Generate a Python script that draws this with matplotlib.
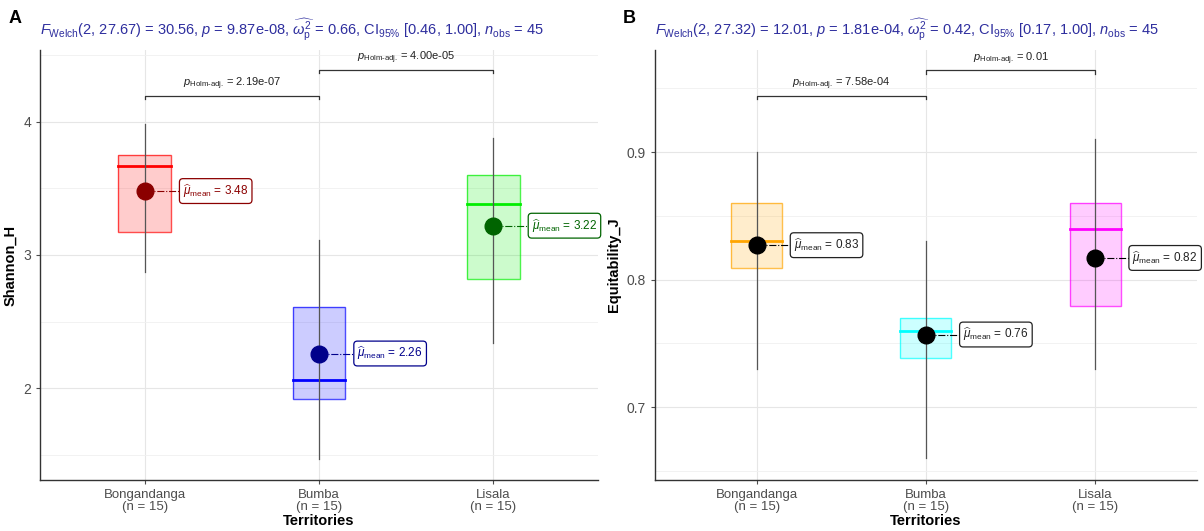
import matplotlib
matplotlib.use("Agg")
import matplotlib.pyplot as plt
from matplotlib.ticker import MultipleLocator

plt.rcParams['font.family'] = ['Liberation Sans', 'DejaVu Sans']
plt.rcParams['mathtext.fontset'] = 'custom'
plt.rcParams['mathtext.rm'] = 'Liberation Sans'
plt.rcParams['mathtext.it'] = 'Liberation Sans:italic'
plt.rcParams['mathtext.bf'] = 'Liberation Sans:bold'

# ---- data ----
territories = ["Bongandanga", "Bumba", "Lisala"]
n_obs = [15, 15, 15]

shannon_min = [2.87, 1.47, 2.34]
shannon_q1 = [3.17, 1.92, 2.82]
shannon_med = [3.67, 2.06, 3.38]
shannon_q3 = [3.75, 2.61, 3.60]
shannon_max = [3.98, 3.11, 3.88]
shannon_mean = [3.48, 2.26, 3.22]

equit_min = [0.73, 0.66, 0.73]
equit_q1 = [0.809, 0.739, 0.779]
equit_med = [0.83, 0.76, 0.84]
equit_q3 = [0.86, 0.77, 0.86]
equit_max = [0.90, 0.83, 0.91]
equit_mean = [0.827, 0.757, 0.817]

title_a = (r"$F_{\mathrm{Welch}}$(2, 27.67) = 30.56, $p$ = 9.87e-08, "
           r"$\widehat{\omega_{\mathrm{p}}^{2}}$ = 0.66, CI$_{95\%}$ [0.46, 1.00], $n_{\mathrm{obs}}$ = 45")
title_b = (r"$F_{\mathrm{Welch}}$(2, 27.32) = 12.01, $p$ = 1.81e-04, "
           r"$\widehat{\omega_{\mathrm{p}}^{2}}$ = 0.42, CI$_{95\%}$ [0.17, 1.00], $n_{\mathrm{obs}}$ = 45")
pairs_a = ["2.19e-07", "4.00e-05"]
pairs_b = ["7.58e-04", "0.01"]

TITLE_COL = "#2e2e9e"


def panel(ax, vmin, q1, med, q3, vmax, mean, box_cols, pt_cols, lab_cols,
          ylim, major, minor, ylabel, title, pvals, br_y, drop, fmt):
    x = [1, 2, 3]
    ax.set_xlim(0.4, 3.6)
    ax.set_ylim(*ylim)
    ax.yaxis.set_major_locator(MultipleLocator(major))
    ax.yaxis.set_minor_locator(MultipleLocator(minor))
    ax.set_xticks(x)
    ax.set_xticklabels([f"{t}\n(n = {n})" for t, n in zip(territories, n_obs)],
                       fontsize=9.5, color="#4d4d4d", linespacing=1.0)
    ax.tick_params(axis='y', labelsize=10, colors="#4d4d4d", length=3)
    ax.tick_params(axis='x', length=3, colors="#4d4d4d")
    ax.tick_params(axis='y', which='minor', length=0)
    ax.grid(True, which='major', color="#e6e6e6", lw=0.8)
    ax.grid(True, which='minor', axis='y', color="#f0f0f0", lw=0.6)
    ax.set_axisbelow(True)
    for s in ['top', 'right']:
        ax.spines[s].set_visible(False)
    for s in ['left', 'bottom']:
        ax.spines[s].set_color("#333333")
        ax.spines[s].set_linewidth(1.0)

    w = 0.3
    for i in range(3):
        xi = x[i]
        ax.bar(xi, q3[i] - q1[i], bottom=q1[i], width=w, color=box_cols[i],
               alpha=0.2, zorder=2)
        ax.bar(xi, q3[i] - q1[i], bottom=q1[i], width=w, fill=False,
               edgecolor=box_cols[i], lw=1.0, alpha=0.7, zorder=3)
        ax.plot([xi - w / 2, xi + w / 2], [med[i], med[i]], color=box_cols[i],
                lw=2.0, zorder=4)
        ax.plot([xi, xi], [vmin[i], vmax[i]], color="#555555", lw=0.9, zorder=5)
        ax.plot([xi, xi + 0.2], [mean[i], mean[i]], color=pt_cols[i], lw=0.8,
                ls='-.', zorder=5)
        ax.plot(xi, mean[i], 'o', ms=12, color=pt_cols[i], zorder=6)
        ax.text(xi + 0.22, mean[i],
                r"$\widehat{\mu}_{\mathrm{mean}}$ = " + fmt.format(mean[i]),
                ha='left', va='center', fontsize=8.5, color=lab_cols[i], zorder=7,
                bbox=dict(boxstyle="round,pad=0.3,rounding_size=0.3", fc="white",
                          ec=lab_cols[i], lw=0.9))

    # pairwise brackets
    for k, (a, b) in enumerate([(1, 2), (2, 3)]):
        y = br_y[k]
        ax.plot([a, a, b, b], [y - drop, y, y, y - drop], color="#333333",
                lw=0.9, clip_on=False)
        ax.text((a + b) / 2, y + drop * 1.2,
                r"$p_{\text{Holm-adj.}}$ = " + pvals[k],
                ha='center', va='bottom', fontsize=8, color="#222222")

    ax.set_ylabel(ylabel, fontsize=10.5, fontweight='bold')
    ax.set_xlabel("Territories", fontsize=10.5, fontweight='bold', labelpad=1)
    ax.set_title(title, fontsize=10.5, color=TITLE_COL, loc='left', pad=11, x=0.0)


fig = plt.figure(figsize=(12.04, 5.31), dpi=100)
ax_a = fig.add_axes([0.0332, 0.096, 0.4635, 0.81])
ax_b = fig.add_axes([0.544, 0.096, 0.450, 0.81])

panel(ax_a, shannon_min, shannon_q1, shannon_med, shannon_q3, shannon_max, shannon_mean,
      ["#ff0000", "#0000ff", "#00ee00"], ["#8b0000", "#00008b", "#006400"],
      ["#8b0000", "#00008b", "#006400"],
      (1.31, 4.54), 1, 0.5, "Shannon_H", title_a, pairs_a, [4.195, 4.39], 0.025, "{:.2f}")

panel(ax_b, equit_min, equit_q1, equit_med, equit_q3, equit_max, equit_mean,
      ["#ffa500", "#00ffff", "#ff00ff"], ["black", "black", "black"],
      ["#222222", "#222222", "#222222"],
      (0.643, 0.98), 0.1, 0.05, "Equitability_J", title_b, pairs_b, [0.944, 0.964], 0.0025, "{:.2f}")

fig.text(0.007, 0.965, "A", fontsize=13, fontweight='bold', va='center')
fig.text(0.517, 0.965, "B", fontsize=13, fontweight='bold', va='center')

fig.savefig("out.png", dpi=100)
